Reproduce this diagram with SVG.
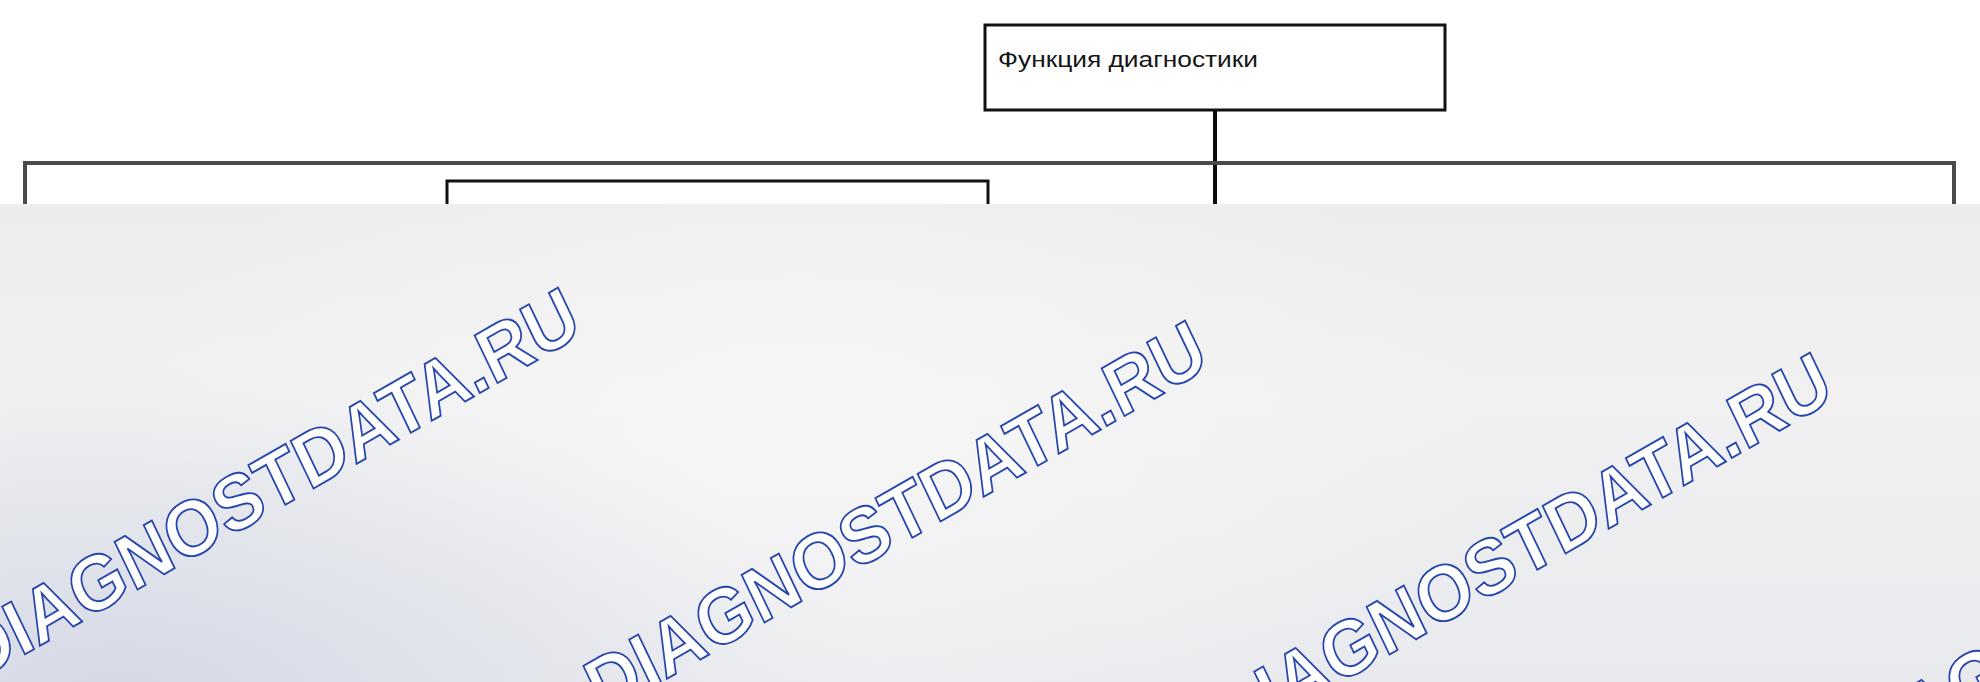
<svg xmlns="http://www.w3.org/2000/svg" width="1980" height="682" viewBox="0 0 1980 682">
<style>
.box{fill:#fff;stroke:#111;stroke-width:3}
.lbl{font-family:"Liberation Sans",Arial,sans-serif;font-size:22px;fill:#151515}
.bus{stroke:#4a4a4a;stroke-width:4;fill:none}
.cn{stroke:#0d0d0d;stroke-width:4;fill:none}
.wm{font-family:"Liberation Sans",Arial,sans-serif;font-weight:bold;font-size:74.5px;fill:#ffffff;stroke:#2646ad;stroke-width:1.8}
</style>
<defs>
<radialGradient id="blueCorner" cx="120" cy="700" r="760" gradientUnits="userSpaceOnUse" gradientTransform="translate(120 700) scale(1 0.45) translate(-120 -700)">
<stop offset="0" stop-color="#d4d8e6" stop-opacity="1"/>
<stop offset="0.6" stop-color="#dfe2ea" stop-opacity="0.6"/>
<stop offset="1" stop-color="#e8e9ee" stop-opacity="0"/>
</radialGradient>
<radialGradient id="lightCenter" cx="800" cy="430" r="700" gradientUnits="userSpaceOnUse" gradientTransform="translate(800 430) scale(1 0.5) translate(-800 -430)">
<stop offset="0" stop-color="#f6f6f7" stop-opacity="1"/>
<stop offset="1" stop-color="#f6f6f7" stop-opacity="0"/>
</radialGradient>
<linearGradient id="base" x1="0" y1="204" x2="0" y2="682" gradientUnits="userSpaceOnUse">
<stop offset="0" stop-color="#ececec"/>
<stop offset="0.4" stop-color="#f1f1f2"/>
<stop offset="1" stop-color="#e9eaee"/>
</linearGradient>
</defs>
<rect x="0" y="0" width="1980" height="682" fill="#ffffff"/>
<g id="connectors">
<line class="cn" x1="1215" y1="110" x2="1215" y2="206"/>
<polyline class="bus" points="25,206 25,163 1954,163 1954,206"/>
</g>
<g id="node-diagnostics-function">
<rect class="box" x="985" y="25" width="460" height="85"/>
<text class="lbl" x="998" y="67" textLength="260" lengthAdjust="spacingAndGlyphs">Функция диагностики</text>
</g>
<g id="node-sub">
<rect class="box" x="447" y="181" width="541" height="60" stroke-width="2.5"/>
</g>
<g id="overlay">
<rect x="0" y="204" width="1980" height="478" fill="url(#base)"/>
<rect x="0" y="204" width="1980" height="478" fill="url(#lightCenter)"/>
<rect x="0" y="204" width="1980" height="478" fill="url(#blueCorner)"/>
<text class="wm" transform="translate(-25 683) scale(0.96 1.05) rotate(-27.7)">DIAGNOSTDATA.RU</text>
<text class="wm" transform="translate(602 716) scale(0.96 1.05) rotate(-27.7)">DIAGNOSTDATA.RU</text>
<text class="wm" transform="translate(1227 748) scale(0.96 1.05) rotate(-27.7)">DIAGNOSTDATA.RU</text>
<text class="wm" transform="translate(1853 780) scale(0.96 1.05) rotate(-27.7)">DIAGNOSTDATA.RU</text>
</g>
</svg>
